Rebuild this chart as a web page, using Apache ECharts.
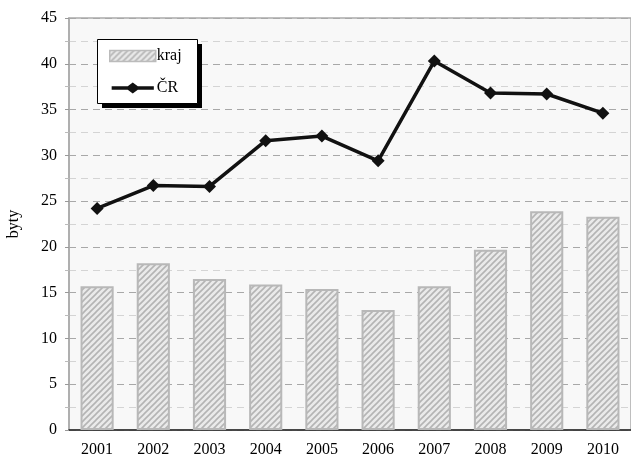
<!DOCTYPE html>
<html><head><meta charset="utf-8">
<script src="https://cdn.jsdelivr.net/npm/echarts@6/dist/echarts.min.js"></script>
<style>html,body{margin:0;padding:0;background:#fff}#c{width:631px;height:461px}</style>
</head><body><div id="c"></div>
<script>
var years = ['2001','2002','2003','2004','2005','2006','2007','2008','2009','2010'];
var kraj = [15.7, 18.2, 16.5, 15.9, 15.4, 13.1, 15.7, 19.7, 23.9, 23.3];
var cr = [24.2, 26.7, 26.6, 31.6, 32.1, 29.4, 40.3, 36.8, 36.7, 34.6];
var yTicks = {min: 0, max: 45, interval: 5};

function hatch() {
  var c = document.createElement('canvas');
  c.width = 6; c.height = 6;
  var g = c.getContext('2d');
  g.fillStyle = '#eaeaea';
  g.fillRect(0, 0, 6, 6);
  g.strokeStyle = '#b4b4b4';
  g.lineWidth = 1.6;
  g.beginPath();
  g.moveTo(-1, 7); g.lineTo(7, -1);
  g.moveTo(-1, 1); g.lineTo(1, -1);
  g.moveTo(5, 7); g.lineTo(7, 5);
  g.stroke();
  return c;
}
var pat = {image: hatch(), repeat: 'repeat'};
var font = 'Liberation Serif';
var chart = echarts.init(document.getElementById('c'));
chart.setOption({
  animation: false,
  textStyle: {fontFamily: font},
  grid: {left: 69, right: 0, top: 18, bottom: 31, outerBoundsMode: 'none', containLabel: false,
         show: true, backgroundColor: '#f8f8f8', borderColor: '#aaaaaa', borderWidth: 1.5},
  graphic: [
    {type: 'rect', z: 50, shape: {x: 102, y: 44, width: 100, height: 64}, style: {fill: '#000'}},
    {type: 'rect', z: 51, shape: {x: 97.5, y: 39.5, width: 100, height: 64}, style: {fill: '#fff', stroke: '#000', lineWidth: 1}}
  ],
  legend: {
    orient: 'vertical', left: 109, top: 47, z: 60,
    padding: 0, itemWidth: 46, itemHeight: 11, itemGap: 14,
    textStyle: {fontFamily: font, fontSize: 16, color: '#000', padding: [0, 0, 0, -4], lineHeight: 18},
    data: [
      {name: 'kraj', icon: 'rect', itemStyle: {borderColor: '#bbbbbb', borderWidth: 1.5}},
      {name: 'ČR', icon: 'path://M0,4.1L17.5,4.1L23,0L28.5,4.1L46,4.1L46,7.9L28.5,7.9L23,12L17.5,7.9L0,7.9Z',
       itemStyle: {color: '#111', borderWidth: 0}}
    ]
  },
  xAxis: [{
    type: 'category', data: years,
    axisLine: {lineStyle: {color: '#222', width: 1.5}},
    axisTick: {length: 6, lineStyle: {color: '#222'}},
    axisLabel: {fontFamily: font, fontSize: 16, color: '#000', margin: 12}
  }, {
    type: 'category', data: years, position: 'bottom',
    axisLine: {show: false}, axisLabel: {show: false},
    axisTick: {inside: true, length: 6, lineStyle: {color: '#222'}}
  }],
  yAxis: {
    type: 'value', min: yTicks.min, max: yTicks.max, interval: yTicks.interval,
    name: 'byty', nameLocation: 'middle', nameGap: 47, nameRotate: 90,
    nameTextStyle: {fontFamily: font, fontSize: 16, color: '#000'},
    axisLine: {show: true, lineStyle: {color: '#aaaaaa', width: 1.5}},
    axisTick: {show: true, length: 4, lineStyle: {color: '#999'}},
    minorTick: {show: true, splitNumber: 2, length: 4, lineStyle: {color: '#bbb'}},
    axisLabel: {fontFamily: font, fontSize: 16, color: '#000', margin: 12},
    splitLine: {lineStyle: {color: '#a8a8a8', type: [7, 5]}},
    minorSplitLine: {show: true, lineStyle: {color: '#d4d4d4', type: [7, 5]}}
  },
  series: [{
    name: 'kraj', type: 'bar', data: kraj, barWidth: '59%',
    itemStyle: {color: pat, borderColor: '#b8b8b8', borderWidth: 2}
  }, {
    name: 'ČR', type: 'line', data: cr, symbol: 'diamond', symbolSize: 13,
    lineStyle: {color: '#111', width: 3.5},
    itemStyle: {color: '#111'}
  }]
});
</script></body></html>
